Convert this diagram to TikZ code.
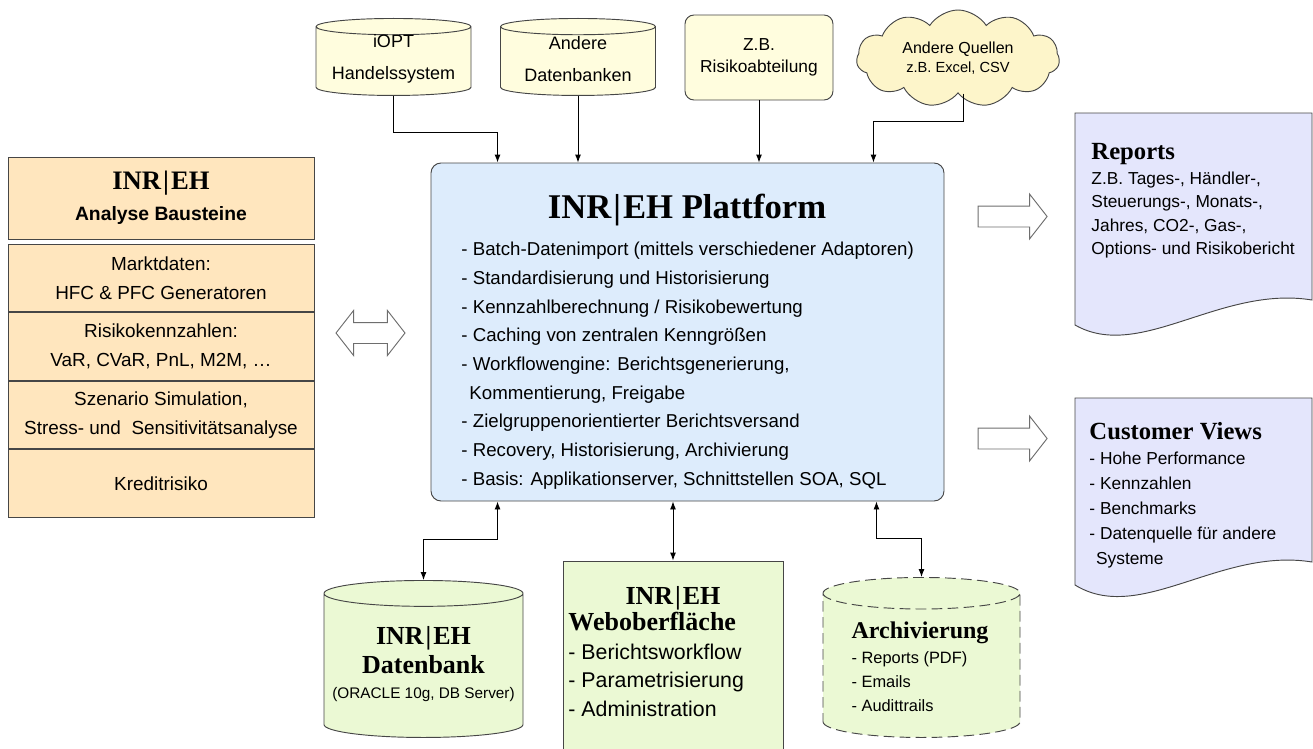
\documentclass[tikz,border=0pt]{standalone}
\usepackage{fontspec}
\setmainfont{Liberation Sans}
\newfontfamily\hdfont{Liberation Serif}
\usetikzlibrary{positioning,shapes.geometric,shapes.symbols,shapes.arrows,arrows.meta}

\definecolor{lgray}{RGB}{70,70,70}
\definecolor{agray}{RGB}{110,110,110}
\definecolor{srcfill}{RGB}{255,253,222}
\definecolor{cloudfill}{RGB}{253,245,202}
\definecolor{platfill}{RGB}{221,236,252}
\definecolor{modfill}{RGB}{255,230,190}
\definecolor{docfill}{RGB}{228,230,252}
\definecolor{grnfill}{RGB}{235,249,212}

\newcommand\inreh{INR\kern1.5pt|\kern1.5ptEH}

\begin{document}
\begin{tikzpicture}[x=0.75pt,y=-0.75pt,line width=0.7pt,
  >={Latex[length=6pt,width=4.5pt]},
  src/.style={draw=lgray,fill=srcfill,align=center,inner sep=0pt,
    font=\fontsize{13.5}{22.5}\selectfont},
  srctxt/.style={align=center,inner sep=0pt,font=\fontsize{13.5}{23.5}\selectfont},
  srcdb/.style={src,cylinder,shape border rotate=90,aspect=0.105,anchor=north,
    text width=155*\U,minimum height=77*\U},
  srcbox/.style={src,rectangle,rounded corners=9*\U,
    minimum width=148*\U,minimum height=85*\U,font=\fontsize{13}{16.5}\selectfont},
  srccloud/.style={src,fill=cloudfill,cloud,cloud puffs=11,cloud puff arc=115,
    aspect=2.1,minimum width=203*\U,minimum height=97*\U,
    font=\fontsize{12}{14.25}\selectfont},
  platbox/.style={draw=lgray,fill=platfill,rounded corners=10*\U,
    minimum width=513*\U,minimum height=338*\U},
  hdbox/.style={draw=lgray,fill=modfill,minimum width=306*\U,minimum height=82*\U,
    align=center,inner sep=0pt,font=\fontsize{14.5}{23}\selectfont},
  modbox/.style={draw=lgray,fill=modfill,minimum width=306*\U,minimum height=67.5*\U,
    align=center,inner sep=0pt,font=\fontsize{14.2}{21.75}\selectfont},
  grnbox/.style={draw=lgray,fill=grnfill,minimum width=220*\U,minimum height=199*\U},
  grndb/.style={draw=lgray,fill=grnfill,cylinder,shape border rotate=90,aspect=0.13,
    anchor=north,inner sep=0pt,text width=199*\U,minimum height=157*\U},
  blockarrow/.style={draw=agray,fill=white,single arrow,inner sep=10*\U,
    single arrow head extend=12*\U,single arrow tip angle=104,minimum height=69*\U},
  dblarrow/.style={draw=agray,fill=white,double arrow,inner sep=10*\U,
    double arrow head extend=12*\U,double arrow tip angle=104,minimum height=69*\U},
  doc/.style={draw=lgray,fill=docfill},
  ttl/.style={font=\hdfont\bfseries\fontsize{19.5}{22}\selectfont}]

  \newcommand\U{0.75pt}
  \useasboundingbox (0,0) rectangle (1313,749);

  %% sources
  \node[srcdb] (iopt) at (393.5,18) {};
  \node[srctxt] (iopttxt) at (393.5,59) {iOPT\\Handelssystem};
  \node[srcdb] (andere) at (578,18) {};
  \node[srctxt] (anderetxt) at (578,59) {Andere\\Datenbanken};
  \node[srcbox] (risiko) at (759,57.5) {Z.B.\\Risikoabteilung};
  \node[srccloud] (quellen) at (958,58.5)
    {Andere Quellen\\{\fontsize{11}{14.25}\selectfont z.B. Excel, CSV}};

  %% platform
  \node[platbox] (plat) at (687.5,332) {};
  \node[font=\hdfont\bfseries\fontsize{26}{30}\selectfont] (plattitle) at (687,210)
    {\inreh{} Plattform};
  \node[anchor=north west,inner sep=0pt,align=left,
    font=\fontsize{14}{21.5}\selectfont] (platlist) at (461,242)
    {- Batch-Datenimport (mittels verschiedener Adaptoren)\\
     - Standardisierung und Historisierung\\
     - Kennzahlberechnung / Risikobewertung\\
     - Caching von zentralen Kenngrößen\\
     - Workflowengine: Berichtsgenerierung,\\
     \hspace*{6pt}Kommentierung, Freigabe\\
     - Zielgruppenorientierter Berichtsversand\\
     - Recovery, Historisierung, Archivierung\\
     - Basis: Applikationserver, Schnittstellen SOA, SQL};

  %% analyse bausteine
  \node[hdbox] (hdr) at (161,198)
    {{\hdfont\bfseries\fontsize{20}{23}\selectfont\inreh}\\{\bfseries Analyse Bausteine}};
  \node[modbox] (mkt) at (161,278) {Marktdaten:\\HFC \& PFC Generatoren};
  \node[modbox,below=0pt of mkt] (kenn) {Risikokennzahlen:\\VaR, CVaR, PnL, M2M, \dots};
  \node[modbox,below=0pt of kenn] (szen) {Szenario Simulation,\\Stress- und \ Sensitivitätsanalyse};
  \node[modbox,below=0pt of szen] (kredit) {Kreditrisiko};

  \node[dblarrow] (lr) at (370.5,333) {};

  %% outputs
  \node[blockarrow] (torep) at (1008.5,216.5) {};
  \node[blockarrow] (tocust) at (1008.5,438.5) {};

  \draw[doc] (1075,113) -- (1312,113) -- (1312,300)
    .. controls (1220,285) and (1140,362) .. (1075,325) -- cycle;
  \node[anchor=north west,inner sep=0pt,align=left,
    font=\fontsize{13}{17.6}\selectfont] (reports) at (1091,143)
    {{\hdfont\bfseries\fontsize{18.5}{22}\selectfont Reports}\\[1pt]
     Z.B. Tages-, Händler-,\\ Steuerungs-, Monats-,\\
     Jahres, CO2-, Gas-,\\ Options- und Risikobericht};

  \draw[doc] (1075,398) -- (1312,398) -- (1312,562)
    .. controls (1220,547) and (1140,625) .. (1075,585) -- cycle;
  \node[anchor=north west,inner sep=0pt,align=left,
    font=\fontsize{13}{18.75}\selectfont] (cust) at (1089,422)
    {{\hdfont\bfseries\fontsize{18.5}{22}\selectfont Customer Views}\\
     - Hohe Performance\\ - Kennzahlen\\ - Benchmarks\\
     - Datenquelle für andere\\ \hspace*{5pt}Systeme};

  %% bottom
  \node[grndb] (db) at (423.5,580) {};
  \node[align=center,inner sep=0pt,ttl] (dbtxt) at (423.5,664)
    {\inreh\\Datenbank\\[-3pt]{\normalfont\fontsize{11.5}{14}\selectfont(ORACLE 10g, DB Server)}};

  \node[grnbox] (web) at (673,660.5) {};
  \node[ttl] (webhd) at (673,598) {\inreh};
  \node[anchor=north west,inner sep=0pt,align=left,
    font=\fontsize{16}{21.4}\selectfont] (webtxt) at (568,612)
    {{\hdfont\bfseries\fontsize{19.5}{22}\selectfont Weboberfläche}\\
     - Berichtsworkflow\\ - Parametrisierung\\ - Administration};

  \node[grndb,dash pattern=on 8pt off 4pt,aspect=0.16,text width=197*\U,
    minimum height=160*\U] (arch) at (921.5,577) {};
  \node[align=left,inner sep=0pt,font=\fontsize{12.3}{18}\selectfont] (archtxt)
    at (920,667)
    {{\hdfont\bfseries\fontsize{18}{22}\selectfont Archivierung}\\[1pt]
     - Reports (PDF)\\ - Emails\\ - Audittrails};

  %% connectors
  \draw[->] (iopt.south) -- ++(0,37) -| ([xshift=67*\U]plat.north west); %% iopt -> plat
  \draw[->] (andere.south) -- (andere.south |- plat.north);
  \draw[->] (risiko.south) -- (risiko.south |- plat.north);
  \draw[->] ([xshift=5*\U]quellen.south) -- ++(0,28) -| ([xshift=-71*\U]plat.north east);

  \draw[<->] ([xshift=67*\U]plat.south west) -- ++(0,38) -| (db.north); %% plat <-> db
  \draw[<->] (web.north |- plat.south) -- (web.north);
  \draw[<->] ([xshift=-68*\U]plat.south east) -- ++(0,37) -| (arch.north);

\end{tikzpicture}
\end{document}
